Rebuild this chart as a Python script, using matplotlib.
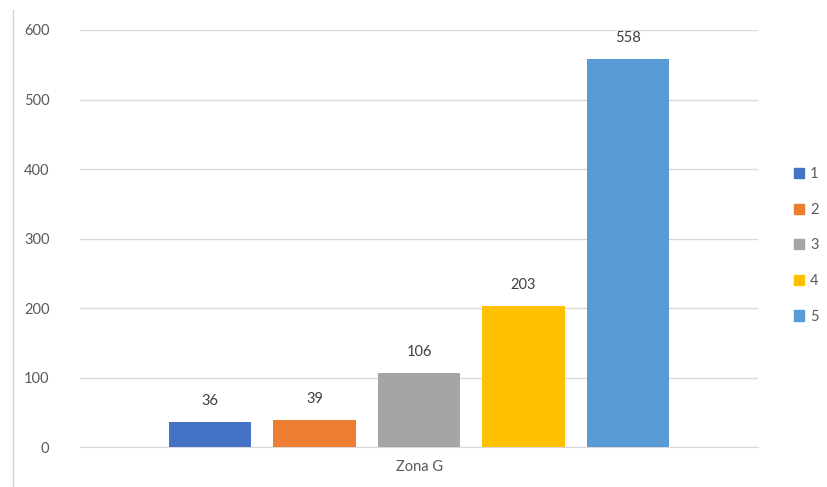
import matplotlib
matplotlib.use("Agg")
import matplotlib.pyplot as plt
from matplotlib.lines import Line2D
import numpy as np

plt.rcParams['font.family'] = ['Lato', 'DejaVu Sans']

series = ["1", "2", "3", "4", "5"]
values = [36, 39, 106, 203, 558]
colors = ["#4472C4", "#ED7D31", "#A5A5A5", "#FFC000", "#5B9BD5"]
category = "Zona G"
yticks = [0, 100, 200, 300, 400, 500, 600]

fig = plt.figure(figsize=(8.28, 4.87), dpi=100)
ax = fig.add_axes([0.0966, 0.0821, 0.8189, 0.8563])

x = np.arange(len(series)) - (len(series) - 1) / 2
bars = ax.bar(x, values, width=0.785, color=colors, label=series, zorder=3)

# value labels above the bars
for xi, v in zip(x, values):
    ax.annotate(str(v), (xi, v), xytext=(0, 10), textcoords="offset points",
                ha="center", va="bottom", fontsize=10.5, color="#404040")

ax.set_xlim(-3.244, 3.244)
ax.set_ylim(0, 600)
ax.set_yticks(yticks)
ax.set_xticks([0])
ax.set_xticklabels([category])
ax.tick_params(axis="both", length=0, labelsize=10.5, labelcolor="#595959")
ax.tick_params(axis="y", pad=22)
ax.tick_params(axis="x", pad=9)
ax.grid(axis="y", color="#D9D9D9", linewidth=1, zorder=0)
for s in ["top", "right", "left"]:
    ax.spines[s].set_visible(False)
ax.spines["bottom"].set_color("#D9D9D9")

handles = [plt.Rectangle((0, 0), 1, 1, color=c) for c in colors]
fig.legend(handles, series, loc="center left", bbox_to_anchor=(0.952, 0.496),
           frameon=False, fontsize=10.5, labelcolor="#595959",
           handlelength=0.7, handleheight=0.7, handletextpad=0.4,
           labelspacing=1.48, borderaxespad=0)

fig.add_artist(Line2D([13 / 828, 13 / 828], [0, 477 / 487], transform=fig.transFigure,
                      color="#D0D0D0", linewidth=1))

fig.savefig("out.png", dpi=100)
